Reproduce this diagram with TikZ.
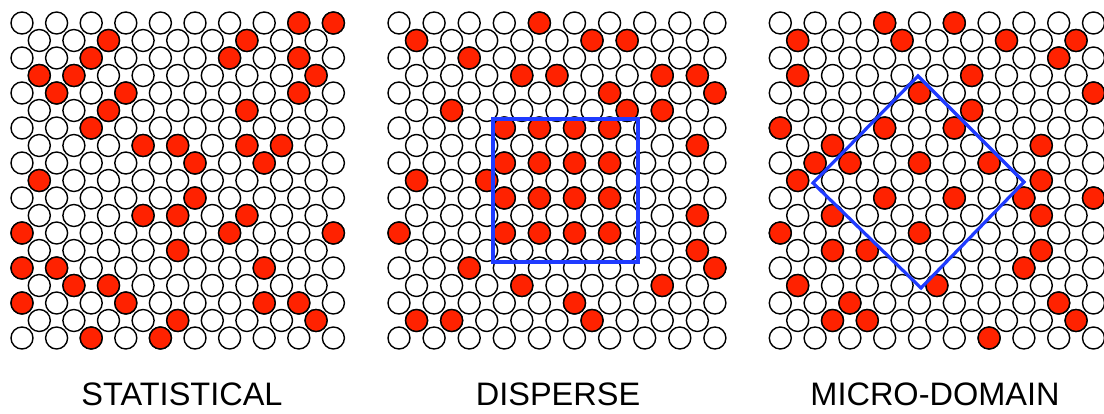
\documentclass[tikz,border=0pt]{standalone}
\usepackage{fontspec}
\setmainfont{Liberation Sans}
\usetikzlibrary{positioning}
\definecolor{atomred}{HTML}{FF2200}
\definecolor{domainblue}{HTML}{1F3BFF}
\tikzset{
  atom/.style={draw=black,fill=white,line width=1.4pt},
  solute/.style={draw=black,fill=atomred,line width=1.4pt},
  boundary/.style={draw=domainblue,line width=3.2pt,line join=miter},
  caption/.style={font=\fontsize{32.5}{37}\selectfont,anchor=base,inner sep=0pt}
}
% #1 = x of first column, #2 = half spacing, #3 = red sites row/halfcolumn
\newcommand{\drawlattice}[3]{%
  \foreach \r in {0,2,...,18}
    \foreach \h in {0,2,...,18}
      \draw[atom] ({#1+#2*\h},{23+17.5*\r}) circle[radius=11pt];
  \foreach \r in {1,3,...,17}
    \foreach \h in {1,3,...,17}
      \draw[atom] ({#1+#2*\h},{23+17.5*\r}) circle[radius=11pt];
  \foreach \r/\h in {#3}
    \draw[solute] ({#1+#2*\h},{23+17.5*\r}) circle[radius=11pt];
}

\begin{document}
\begin{tikzpicture}[x=1pt,y=-1pt]
  \useasboundingbox (0,0) rectangle (1104,414);

  % statistical
  \drawlattice{22}{17.3}{0/16,0/18,1/5,1/13,2/4,2/12,2/16,3/1,3/3,3/17,
    4/2,4/6,4/16,5/5,5/13,6/4,7/7,7/9,7/13,7/15,8/10,8/14,9/1,10/10,
    11/7,11/9,11/13,12/0,12/12,12/18,13/9,14/0,14/2,14/14,15/3,15/5,
    16/0,16/6,16/14,16/16,17/9,17/17,18/4,18/8}
  \node[caption] (statlabel) at (182,405) {STATISTICAL};

  % disperse
  \drawlattice{399}{17.55}{0/8,1/1,1/11,1/13,2/4,3/7,3/9,3/15,3/17,
    4/12,4/18,5/3,5/13,5/15,6/6,6/8,6/10,6/12,7/17,8/6,8/8,8/10,8/12,
    9/1,9/5,10/6,10/8,10/10,10/12,11/17,12/0,12/6,12/8,12/10,12/12,
    13/17,14/4,14/18,15/7,15/15,16/10,17/1,17/3,17/11}
  \draw[boundary] (493,119) rectangle (638,262);
  \node[caption] (displabel) at (558,405) {DISPERSE};

  % micro-domain
  \drawlattice{780.3}{17.4}{0/6,0/10,1/1,1/7,1/13,1/17,2/16,3/1,3/11,
    4/8,4/18,5/11,6/0,6/6,6/10,7/3,7/15,8/2,8/4,8/8,8/12,9/1,9/15,
    10/6,10/10,10/14,10/18,11/3,11/15,12/0,12/8,13/3,13/5,13/15,14/14,
    15/1,15/9,16/4,16/16,17/3,17/5,17/17,18/12}
  \draw[boundary] (918,76) -- (1024,182) -- (921,288) -- (813,183) -- cycle;
  \node[caption] (microlabel) at (935,405) {MICRO-DOMAIN};
\end{tikzpicture}
\end{document}
